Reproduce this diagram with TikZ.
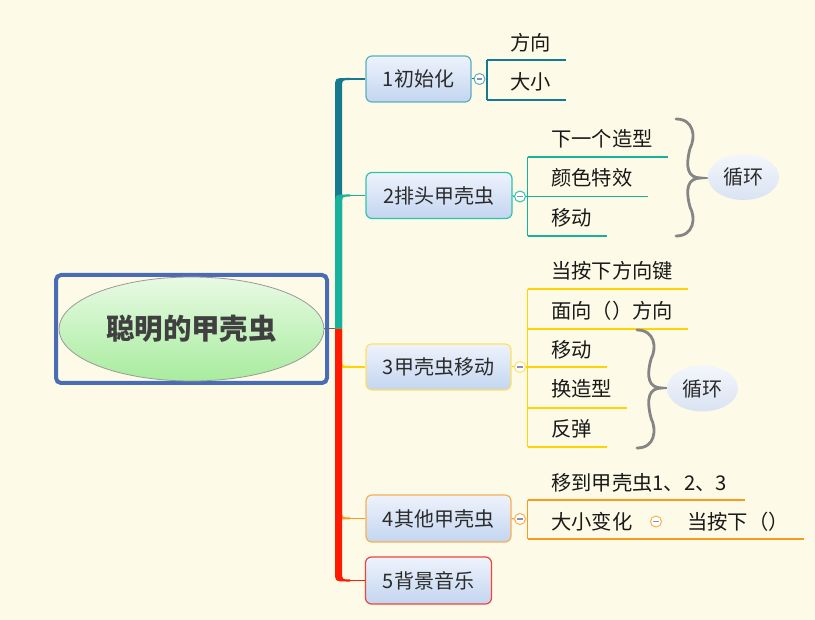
\documentclass[tikz,border=0pt]{standalone}
\usepackage{fontspec}
\newfontfamily\cjk{Noto Sans CJK SC}
\usetikzlibrary{shapes.geometric}
\definecolor{bg}{HTML}{FDFBE7}
\definecolor{frameblue}{HTML}{4A6CB5}
\definecolor{rootTop}{HTML}{E8FAE4}
\definecolor{rootBot}{HTML}{A8EC9E}
\definecolor{tTop}{HTML}{EEF3FC}
\definecolor{tBot}{HTML}{C3D5F0}
\definecolor{lTop}{HTML}{F4F6FB}
\definecolor{lBot}{HTML}{D9E3F2}
\definecolor{bA}{HTML}{15798F}
\definecolor{bAb}{HTML}{5AAFC0}
\definecolor{bB}{HTML}{16B29C}
\definecolor{bBb}{HTML}{2EC3AE}
\definecolor{bC}{HTML}{FFD400}
\definecolor{bCb}{HTML}{FFE065}
\definecolor{bD}{HTML}{F89A1C}
\definecolor{bDb}{HTML}{F9AE55}
\definecolor{bE}{HTML}{FF1A00}
\definecolor{bEb}{HTML}{F0443A}
\definecolor{txt}{HTML}{2B2B2B}
\definecolor{minusc}{HTML}{8A8FB0}
\definecolor{bracec}{HTML}{858585}
\newcommand\mybranch[3]{% color, yb, s (-1 up, +1 down)
  \fill[#1] (335,329) -- (335,{#2-#3*9}) .. controls (335,{#2+#3*1}) .. (346,{#2+#3*1})
    -- (350,{#2+#3*1}) -- (350,{#2-#3*1}) .. controls (342,{#2-#3*1}) .. (342,{#2-#3*9}) -- (342,329) -- cycle;}
\newcommand\mybrace[5]{% a, y0, ym, y1, color
  \draw[#5, line width=2.8pt, line cap=round]
    (#1,#2) .. controls ({#1+18},#2) and ({#1+20},{#2+18}) .. ({#1+14},{(#2+#3)/2})
    .. controls ({#1+9},{#3-10}) and ({#1+12},#3) .. ({#1+25},#3)
    .. controls ({#1+12},#3) and ({#1+9},{#3+10}) .. ({#1+14},{(#3+#4)/2})
    .. controls ({#1+20},{#4-18}) and ({#1+18},#4) .. (#1,#4);}
\tikzset{
  topic/.style={draw, rounded corners=6pt, line width=1.2pt, top color=tTop, bottom color=tBot,
    inner sep=0pt, text=txt, font=\cjk\fontsize{20}{22}\selectfont},
  sub/.style={anchor=west, inner sep=0pt, text=black!90, font=\cjk\fontsize{20.3}{22}\selectfont},
  loopnode/.style={ellipse, minimum width=71pt, minimum height=46pt, inner sep=0pt,
    top color=lTop, bottom color=lBot, text=txt, font=\cjk\fontsize{20}{22}\selectfont},
  collapse/.style={circle, minimum size=11pt, inner sep=0pt, fill=white, line width=1pt,
    path picture={\draw[minusc, line width=1.2pt] ([xshift=-2.6pt]path picture bounding box.center) -- ([xshift=2.6pt]path picture bounding box.center);}},
  subline/.style={line width=1.3pt}
}
\begin{document}
\begin{tikzpicture}[x=1pt,y=-1pt]
\useasboundingbox (0,0) rectangle (815,620);
\fill[bg] (0,0) rectangle (815,620);

% root
\draw[frameblue, line width=4pt, rounded corners=5pt] (56,275) rectangle (327,383);
\node[ellipse, minimum width=265pt, minimum height=104pt, inner sep=0pt, draw=black!40, line width=0.8pt,
  top color=rootTop, bottom color=rootBot, text=black!75,
  font=\cjk\bfseries\fontsize{28.5}{32}\selectfont] (root) at (191.5,329) {聪明的甲壳虫};
\coordinate (trunk) at (335,329);
\draw[black!60, line width=1pt] (root.east) -- (trunk);

% topics
\node[topic, draw=bAb, minimum width=105pt, minimum height=46pt] (t1) at (418.5,79) {1初始化};
\node[topic, draw=bBb, minimum width=146pt, minimum height=46pt] (t2) at (439,195.5) {2排头甲壳虫};
\node[topic, draw=bCb, minimum width=145pt, minimum height=46pt] (t3) at (438.5,367) {3甲壳虫移动};
\node[topic, draw=bDb, minimum width=145pt, minimum height=47pt] (t4) at (438.5,518.5) {4其他甲壳虫};
\node[topic, draw=bEb, minimum width=126pt, minimum height=47pt] (t5) at (428.5,580.5) {5背景音乐};

% branches
\mybranch{bA}{79}{-1}
\draw[bA, line width=1.6pt] (348,79) -- (t1.west);
\mybranch{bB}{195.5}{-1}
\draw[bB, line width=1.6pt] (348,195.5) -- (t2.west);
\mybranch{bC}{367}{1}
\draw[bC, line width=1.6pt] (348,367) -- (t3.west);
\mybranch{bD}{518.5}{1}
\draw[bD, line width=1.6pt] (348,518.5) -- (t4.west);
\mybranch{bE}{580.5}{1}
\draw[bE, line width=1.6pt] (348,580.5) -- (t5.west);

% topic 1 children
\node[collapse, draw=bAb] (k1) at (479.5,79) {};
\draw[bA, line width=1pt] (t1.east) -- (k1.west);
\draw[bA, subline] (487,60) -- (487,100);
\draw[bA, subline] (487,60) -- (566,60);
\draw[bA, subline] (487,100) -- (566,100);
\node[sub] (s11) at (510,42.5) {方向};
\node[sub] (s12) at (510,81.5) {大小};

% topic 2 children
\node[collapse, draw=bBb] (k2) at (520,196.5) {};
\draw[bB, line width=1pt] (t2.east) -- (k2.west);
\draw[bB, subline] (527.5,157) -- (527.5,236);
\draw[bB, subline] (527.5,157) -- (668,157);
\draw[bB, subline] (k2.east) -- (648,196.5);
\draw[bB, subline] (527.5,236) -- (607,236);
\node[sub] (s21) at (551,138.5) {下一个造型};
\node[sub] (s22) at (551,177.5) {颜色特效};
\node[sub] (s23) at (551,217.5) {移动};
\mybrace{676}{119}{178}{236}{bracec}
\node[loopnode] (l2) at (743.5,177) {循环};

% topic 3 children
\node[collapse, draw=bCb] (k3) at (520,367) {};
\draw[bC, line width=1pt] (t3.east) -- (k3.west);
\draw[bC, subline] (527.5,289) -- (527.5,447);
\draw[bC, subline] (527.5,289) -- (688,289);
\draw[bC, subline] (527.5,329) -- (688,329);
\draw[bC, subline] (k3.east) -- (607,367);
\draw[bC, subline] (527.5,408) -- (627,408);
\draw[bC, subline] (527.5,447) -- (607,447);
\node[sub] (s31) at (551,271) {当按下方向键};
\node[sub] (s32) at (551,311) {面向（）方向};
\node[sub] (s33) at (551,350) {移动};
\node[sub] (s34) at (551,389) {换造型};
\node[sub] (s35) at (551,428.5) {反弹};
\mybrace{637}{330}{388}{448}{bracec}
\node[loopnode] (l3) at (702.5,388.5) {循环};

% topic 4 children
\node[collapse, draw=bDb] (k4) at (520,519) {};
\draw[bD, line width=1pt] (t4.east) -- (k4.west);
\draw[bD, subline] (527.5,500) -- (527.5,539);
\draw[bD, subline] (527.5,500) -- (745,500);
\draw[bD, subline] (527.5,539) -- (804,539);
\node[sub] (s41) at (551,482.5) {移到甲壳虫1、2、3};
\node[sub] (s42) at (551,521.5) {大小变化};
\node[collapse, draw=bDb] (k5) at (656,521.5) {};
\node[sub] (s43) at (687,521.5) {当按下（）};
\end{tikzpicture}
\end{document}
